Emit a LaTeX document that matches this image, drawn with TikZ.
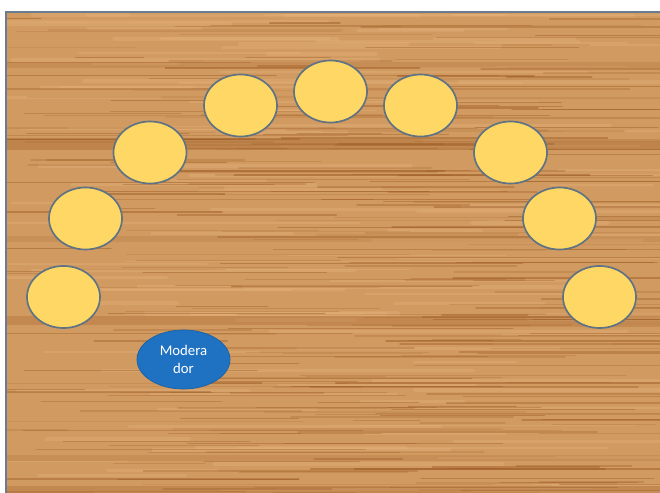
\documentclass[tikz,border=0pt]{standalone}
\usepackage{fontspec}
\setmainfont{Carlito}
\usetikzlibrary{shapes.geometric}
\definecolor{woodc}{HTML}{D09A60}
\definecolor{grainc}{HTML}{9A5722}
\definecolor{sheenc}{HTML}{E6B47E}
\definecolor{framec}{HTML}{6A7C90}
\definecolor{seatc}{HTML}{FFD764}
\definecolor{rimc}{HTML}{5F7384}
\definecolor{modc}{HTML}{1F72C2}
\tikzset{
  wood/.style={fill=woodc},
  grain/.style={draw=grainc, line cap=round},
  sheen/.style={draw=sheenc, line cap=round},
  seat/.style={ellipse, draw=rimc, line width=1.2pt, fill=seatc, minimum width=1.825cm, minimum height=1.55cm, inner sep=0pt},
  moderator/.style={ellipse, draw=modc!85!black, line width=0.5pt, fill=modc, text=white, minimum width=2.325cm, minimum height=1.475cm, inner sep=0pt, align=center, font=\fontsize{10.5}{12.5}\selectfont},
}

\begin{document}
\begin{tikzpicture}[x=0.025cm, y=-0.025cm]
\useasboundingbox (0,0) rectangle (660,493);
\fill[white] (0,0) rectangle (660,493);
\fill[wood] (6,12) rectangle (661,494);
% grain of the table
\begin{scope}
\clip (6,12) rectangle (660,493);
\pgfmathsetseed{42}
\foreach \i in {1,...,120}{
  \pgfmathsetmacro\yy{12+481*rnd}
  \pgfmathsetmacro\xa{-40+600*rnd}
  \pgfmathsetmacro\xb{\xa+80+300*rnd}
  \pgfmathsetmacro\lw{0.8+2.2*rnd}
  \draw[sheen, opacity=0.35, line width=\lw pt] (\xa,\yy) -- (\xb,\yy);
}
\foreach \i in {1,...,280}{
  \pgfmathsetmacro\yy{12+481*rnd}
  \pgfmathsetmacro\xa{-40+600*rnd}
  \pgfmathsetmacro\xb{\xa+60+300*rnd}
  \pgfmathsetmacro\op{0.12+0.35*rnd}
  \pgfmathsetmacro\lw{0.3+1.2*rnd}
  \draw[grain, opacity=\op, line width=\lw pt] (\xa,\yy) -- (\xb,\yy);
}
\fill[grainc, opacity=0.18] (6,62) rectangle (660,68);
\fill[grainc, opacity=0.32] (6,139) rectangle (660,150);
\fill[grainc, opacity=0.15] (6,236) rectangle (660,242);
\fill[grainc, opacity=0.26] (6,316) rectangle (660,325);
\fill[grainc, opacity=0.16] (6,455) rectangle (660,461);
\fill[grainc, opacity=0.26] (6,486) rectangle (660,493);
\end{scope}
\draw[framec, line width=0.8pt] (661,12) -- (6,12) -- (6,494);
% seats
\node[seat] (s1) at (63.5,297) {};
\node[seat] (s2) at (85.5,218.5) {};
\node[seat] (s3) at (150,152.5) {};
\node[seat] (s4) at (240.5,105.5) {};
\node[seat] (s5) at (330.5,91.5) {};
\node[seat] (s6) at (420.5,105.5) {};
\node[seat] (s7) at (510.5,152.5) {};
\node[seat] (s8) at (559.5,218.5) {};
\node[seat] (s9) at (599.5,297) {};
\node[moderator] (mod) at (183.5,359.5) {Modera\\dor};
\end{tikzpicture}
\end{document}
